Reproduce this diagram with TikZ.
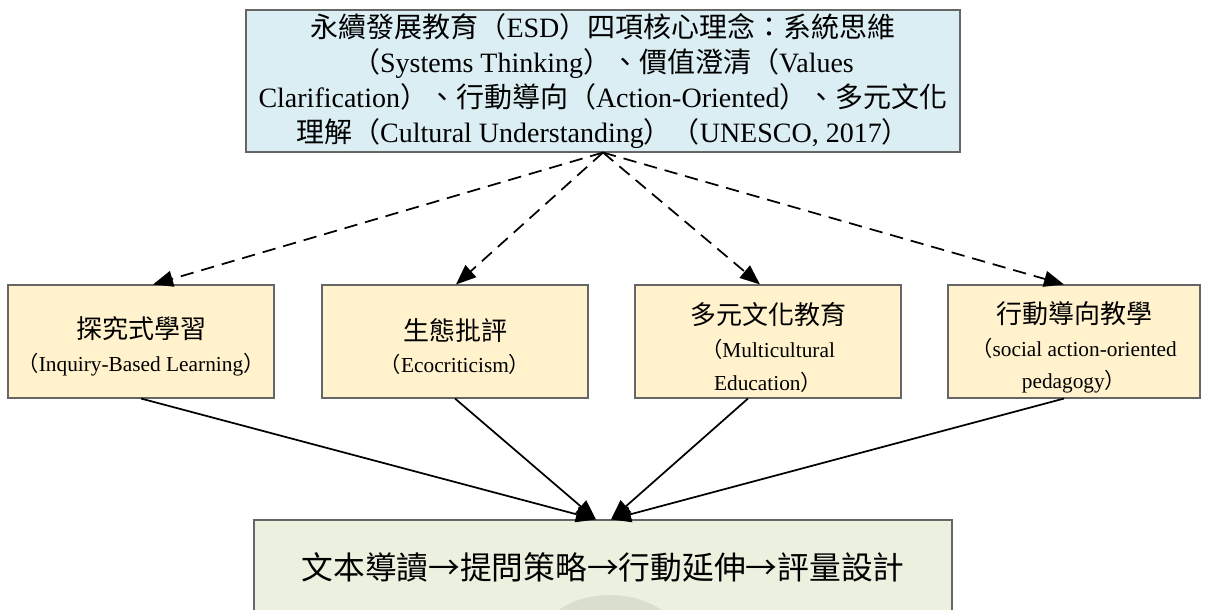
\documentclass[tikz,border=0pt]{standalone}
\usepackage{fontspec}
\setmainfont{Liberation Serif}
\newfontfamily\cjk{Noto Sans CJK TC}
\usetikzlibrary{arrows.meta,calc}
\definecolor{topfill}{HTML}{DBEEF4}
\definecolor{midfill}{HTML}{FFF2CC}
\definecolor{botfill}{HTML}{EBF1DE}
\definecolor{edgegray}{HTML}{666666}
\definecolor{wmark}{HTML}{D9DFCF}
\begin{document}
\begin{tikzpicture}[x=0.75pt,y=-0.75pt,
  box/.style={draw=edgegray,line width=0.8pt,rectangle,inner sep=0pt,align=center},
  topbox/.style={box,fill=topfill,minimum width=535.5pt,minimum height=106.5pt,font=\fontsize{21}{26.25}\selectfont},
  midbox/.style={box,fill=midfill,minimum width=199.5pt,minimum height=84.75pt},
  midtext/.style={inner sep=0pt,align=center,font=\fontsize{16}{24.5}\selectfont},
  botbox/.style={box,fill=botfill,minimum width=523.5pt,minimum height=70.5pt,font=\cjk\fontsize{23.8}{28}\selectfont},
  dasharrow/.style={line width=1.3pt,dash pattern=on 10pt off 6pt,-{Triangle[length=15pt,width=12pt]}},
  solidarrow/.style={line width=1.3pt,-{Triangle[length=15pt,width=12pt]}}]
\newcommand{\cjkt}[1]{{\cjk\fontsize{19.5}{25}\selectfont #1}}
\useasboundingbox (0,0) rectangle (1206,610);
\clip (0,0) rectangle (1206,610);
\fill[white] (0,0) rectangle (1206,610);

\node[topbox] (top) at (603,81) {%
{\cjk 永續發展教育（}ESD{\cjk ）四項核心理念：系統思維}\\
{\cjk （}Systems Thinking{\cjk ）、價值澄清（}Values\\
Clarification{\cjk ）、行動導向（}Action-Oriented{\cjk ）、多元文化}\\
{\cjk 理解（}Cultural Understanding{\cjk ）（}UNESCO, 2017{\cjk ）}};

\node[midbox] (b1) at (141,341.5) {};
\node[midbox] (b2) at (455,341.5) {};
\node[midbox] (b3) at (768,341.5) {};
\node[midbox,minimum width=189pt] (b4) at (1074,341.5) {};
\node[midtext] (t1) at ($(b1)+(0,5)$) {\cjkt{探究式學習}\\{\cjk （}Inquiry-Based Learning{\cjk ）}};
\node[midtext] (t2) at ($(b2)+(0,5)$) {\cjkt{生態批評}\\{\cjk （}Ecocriticism{\cjk ）}};
\node[midtext] (t3) at ($(b3)+(0,6)$) {\cjkt{多元文化教育}\\{\cjk （}Multicultural\\Education{\cjk ）}};
\node[midtext] (t4) at ($(b4)+(0,6)$) {\cjkt{行動導向教學}\\{\cjk （}social action-oriented\\pedagogy{\cjk ）}};

\node[botbox] (bot) at (603,567) {文本導讀→提問策略→行動延伸→評量設計};
\fill[wmark] (610,650) ellipse [x radius=75, y radius=55];

\coordinate (d1) at ($(b1.north)+(12,0)$);
\coordinate (d2) at ($(b2.north)+(1,0)$);
\coordinate (d3) at ($(b3.north)+(-8,0)$);
\coordinate (d4) at ($(b4.north)+(-10,0)$);
\draw[dasharrow] (top.south) -- (d1);
\draw[dasharrow] (top.south) -- (d2);
\draw[dasharrow] (top.south) -- (d3);
\draw[dasharrow] (top.south) -- (d4);

\coordinate (s1) at ($(bot.north)+(-7,0)$);
\coordinate (s2) at ($(bot.north)+(8,0)$);
\draw[solidarrow] (b1.south) -- (s1);
\draw[solidarrow] (b2.south) -- (s1);
\draw[solidarrow] ($(b3.south)+(-20,0)$) -- (s2);
\draw[solidarrow] ($(b4.south)+(-10,0)$) -- (s2);
\end{tikzpicture}
\end{document}
